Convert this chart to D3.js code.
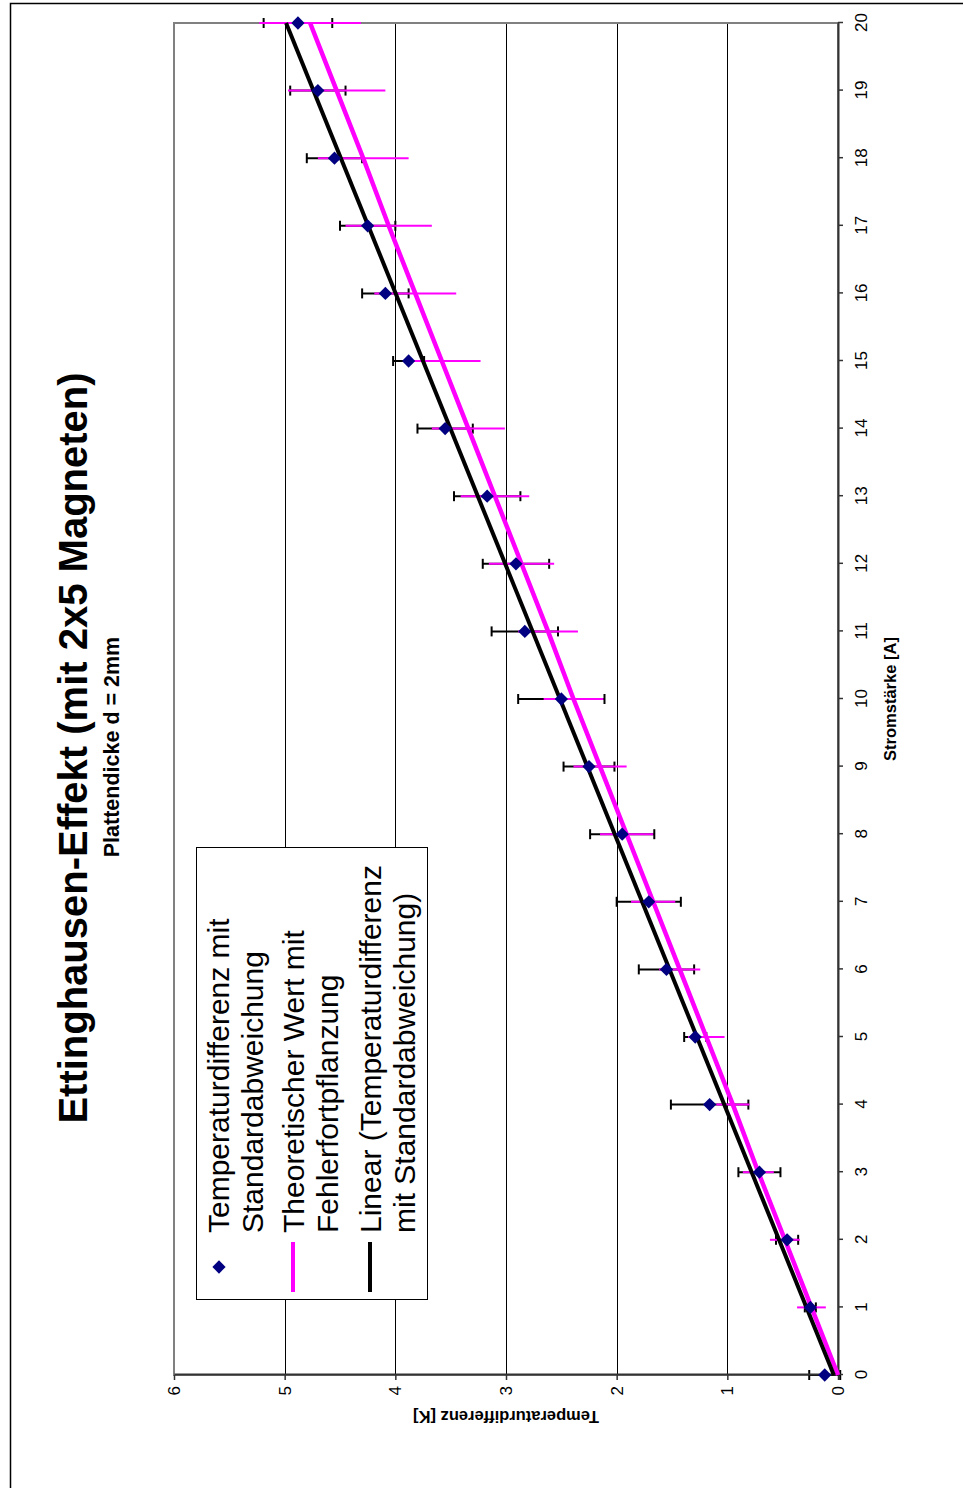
<!DOCTYPE html>
<html lang="de">
<head>
<meta charset="utf-8">
<title>Ettinghausen-Effekt</title>
<style>
  body { margin: 0; background: #fff; }
  svg { display: block; font-family: "Liberation Sans", Arial, sans-serif; }
</style>
</head>
<body>
<svg id="chart" width="963" height="1488"></svg>
<script src="https://cdn.jsdelivr.net/npm/d3@7"></script>
<script>
"use strict";

// Stromstärke [A]
var current = [0, 1, 2, 3, 4, 5, 6, 7, 8, 9, 10, 11, 12, 13, 14, 15, 16, 17, 18, 19, 20];
// gemessene Temperaturdifferenz [K] und Standardabweichung
var tempDiff = [0.12, 0.25, 0.46, 0.71, 1.16, 1.29, 1.55, 1.71, 1.95, 2.25, 2.50, 2.83, 2.91, 3.17, 3.55, 3.88, 4.09, 4.25, 4.55, 4.70, 4.88];
var stdDev = [0.14, 0.05, 0.10, 0.19, 0.35, 0.10, 0.25, 0.29, 0.29, 0.23, 0.39, 0.30, 0.30, 0.30, 0.25, 0.14, 0.21, 0.25, 0.25, 0.25, 0.31];
// theoretischer Wert und Fehlerfortpflanzung
var theoVals = [0, 0.24, 0.48, 0.72, 0.95, 1.19, 1.43, 1.67, 1.91, 2.15, 2.39, 2.62, 2.86, 3.10, 3.34, 3.58, 3.82, 4.06, 4.29, 4.53, 4.77];
var theoErr = [0, 0.13, 0.135, 0.14, 0.15, 0.165, 0.185, 0.20, 0.24, 0.24, 0.27, 0.27, 0.295, 0.31, 0.33, 0.35, 0.37, 0.39, 0.41, 0.44, 0.46];

var xTicks = current;
var yTicks = [0, 1, 2, 3, 4, 5, 6];
var legendLabels = [
	["Temperaturdifferenz mit", "Standardabweichung"],
	["Theoretischer Wert mit", "Fehlerfortpflanzung"],
	["Linear (Temperaturdifferenz", "mit Standardabweichung)"]
];

var MAGENTA = "#ff00ff", NAVY = "#000080";

// Das Diagramm wird aufrecht gezeichnet (1488 x 963) und dann um -90 Grad gedreht
var W = 1488;
var svg = d3.select("#chart");

svg.append("rect")
	.attr("x", 10.5).attr("y", 3.5)
	.attr("width", 1000).attr("height", 1600)
	.attr("fill", "none").attr("stroke", "#000").attr("stroke-width", 1.5);

var g = svg.append("g").attr("transform", "translate(0," + W + ") rotate(-90)");

var x = d3.scaleLinear().domain([0, 20]).range([113, 1465]);
var y = d3.scaleLinear().domain([0, 6]).range([838, 174]);

// Gitterlinien
g.selectAll("line.grid")
	.data([1, 2, 3, 4, 5])
	.enter()
	.append("line")
	.attr("class", "grid")
	.attr("x1", 113).attr("x2", 1465)
	.attr("y1", function(d){ return Math.round(y(d)) + 0.5; })
	.attr("y2", function(d){ return Math.round(y(d)) + 0.5; })
	.attr("stroke", "#000").attr("stroke-width", 1);

// Zeichnungsfläche
g.append("rect")
	.attr("x", 113).attr("y", 174)
	.attr("width", 1465 - 113).attr("height", 838 - 174)
	.attr("fill", "none").attr("stroke", "#808080").attr("stroke-width", 2);

// Fehlerbalken Standardabweichung (schwarz, mit Endstrichen)
var eb = g.selectAll("g.err")
	.data(current)
	.enter()
	.append("g")
	.attr("class", "err")
	.attr("stroke", "#000").attr("stroke-width", 2);
eb.append("line")
	.attr("x1", function(d){ return x(d); })
	.attr("x2", function(d){ return x(d); })
	.attr("y1", function(d,i){ return y(tempDiff[i] - stdDev[i]); })
	.attr("y2", function(d,i){ return y(tempDiff[i] + stdDev[i]); });
eb.append("line")
	.attr("x1", function(d){ return x(d) - 5; })
	.attr("x2", function(d){ return x(d) + 5; })
	.attr("y1", function(d,i){ return y(tempDiff[i] - stdDev[i]); })
	.attr("y2", function(d,i){ return y(tempDiff[i] - stdDev[i]); });
eb.append("line")
	.attr("x1", function(d){ return x(d) - 5; })
	.attr("x2", function(d){ return x(d) + 5; })
	.attr("y1", function(d,i){ return y(tempDiff[i] + stdDev[i]); })
	.attr("y2", function(d,i){ return y(tempDiff[i] + stdDev[i]); });

// Fehlerfortpflanzung (magenta, ohne Endstriche)
g.selectAll("line.theoErr")
	.data(current)
	.enter()
	.append("line")
	.attr("class", "theoErr")
	.attr("x1", function(d){ return x(d); })
	.attr("x2", function(d){ return x(d); })
	.attr("y1", function(d,i){ return y(theoVals[i] - theoErr[i]); })
	.attr("y2", function(d,i){ return y(theoVals[i] + theoErr[i]); })
	.attr("stroke", MAGENTA).attr("stroke-width", 2);

// Achsen
var xAxis = g.append("g")
	.attr("transform", "translate(0,838)")
	.call(d3.axisBottom(x).tickValues(xTicks).tickFormat(d3.format("d"))
		.tickSize(5).tickSizeOuter(0).tickPadding(12));
var yAxis = g.append("g")
	.attr("transform", "translate(113,0)")
	.call(d3.axisLeft(y).tickValues(yTicks).tickFormat(d3.format("d"))
		.tickSize(5).tickSizeOuter(0).tickPadding(6));
[xAxis, yAxis].forEach(function(a){
	a.select(".domain").attr("stroke", "#333").attr("stroke-width", 2);
	a.selectAll(".tick line").attr("stroke", "#333").attr("stroke-width", 1.5);
	a.selectAll(".tick text")
		.attr("fill", "#000")
		.style("font-size", "17px")
		.style("font-family", "'Liberation Sans', Arial, sans-serif");
});

// Theoretische Gerade
var line = d3.line()
	.x(function(d,i){ return x(current[i]); })
	.y(function(d){ return y(d); });
g.append("path")
	.datum(theoVals)
	.attr("d", line)
	.attr("fill", "none").attr("stroke", MAGENTA).attr("stroke-width", 4.5);

// lineare Regression der Messwerte
var mx = d3.mean(current), my = d3.mean(tempDiff);
var sxy = d3.sum(current, function(d,i){ return (d - mx) * (tempDiff[i] - my); });
var sxx = d3.sum(current, function(d){ return (d - mx) * (d - mx); });
var slope = sxy / sxx, icpt = my - slope * mx;
var ends = d3.extent(current);
g.append("line")
	.attr("x1", x(ends[0])).attr("y1", y(icpt + slope * ends[0]))
	.attr("x2", x(ends[1])).attr("y2", y(icpt + slope * ends[1]))
	.attr("stroke", "#000").attr("stroke-width", 4);

// Messpunkte
var diamond = d3.symbol().type(d3.symbolSquare).size(88);
g.selectAll("path.pt")
	.data(current)
	.enter()
	.append("path")
	.attr("class", "pt")
	.attr("d", diamond)
	.attr("transform", function(d,i){ return "translate(" + x(d) + "," + y(tempDiff[i]) + ") rotate(45)"; })
	.attr("fill", NAVY);

// Titel
g.append("text")
	.attr("x", 740).attr("y", 87)
	.attr("text-anchor", "middle")
	.style("font-size", "40px").style("font-weight", "bold")
	.text("Ettinghausen-Effekt (mit 2x5 Magneten)");
g.append("text")
	.attr("x", 741).attr("y", 119)
	.attr("text-anchor", "middle")
	.style("font-size", "21.5px").style("font-weight", "bold")
	.text("Plattendicke d = 2mm");

// Achsentitel
g.append("text")
	.attr("x", 789).attr("y", 896)
	.attr("text-anchor", "middle")
	.style("font-size", "16.5px").style("font-weight", "bold")
	.text("Stromstärke [A]");
g.append("text")
	.attr("transform", "translate(77,506) rotate(-90)")
	.attr("text-anchor", "middle")
	.style("font-size", "16.5px").style("font-weight", "bold")
	.text("Temperaturdifferenz [K]");

// Legende
var leg = g.append("g");
leg.append("rect")
	.attr("x", 188.5).attr("y", 196.5)
	.attr("width", 452).attr("height", 231)
	.attr("fill", "#fff").attr("stroke", "#000").attr("stroke-width", 1);
var baseY = [229, 304, 381];
legendLabels.forEach(function(lines, k){
	lines.forEach(function(t, j){
		leg.append("text")
			.attr("x", 255).attr("y", baseY[k] + j * 34)
			.style("font-size", "30px")
			.text(t);
	});
});
leg.append("path")
	.attr("d", diamond)
	.attr("transform", "translate(221,219) rotate(45)")
	.attr("fill", NAVY);
leg.append("line")
	.attr("x1", 196).attr("x2", 246).attr("y1", 293).attr("y2", 293)
	.attr("stroke", MAGENTA).attr("stroke-width", 4);
leg.append("line")
	.attr("x1", 196).attr("x2", 246).attr("y1", 370).attr("y2", 370)
	.attr("stroke", "#000").attr("stroke-width", 4);
</script>
</body>
</html>
